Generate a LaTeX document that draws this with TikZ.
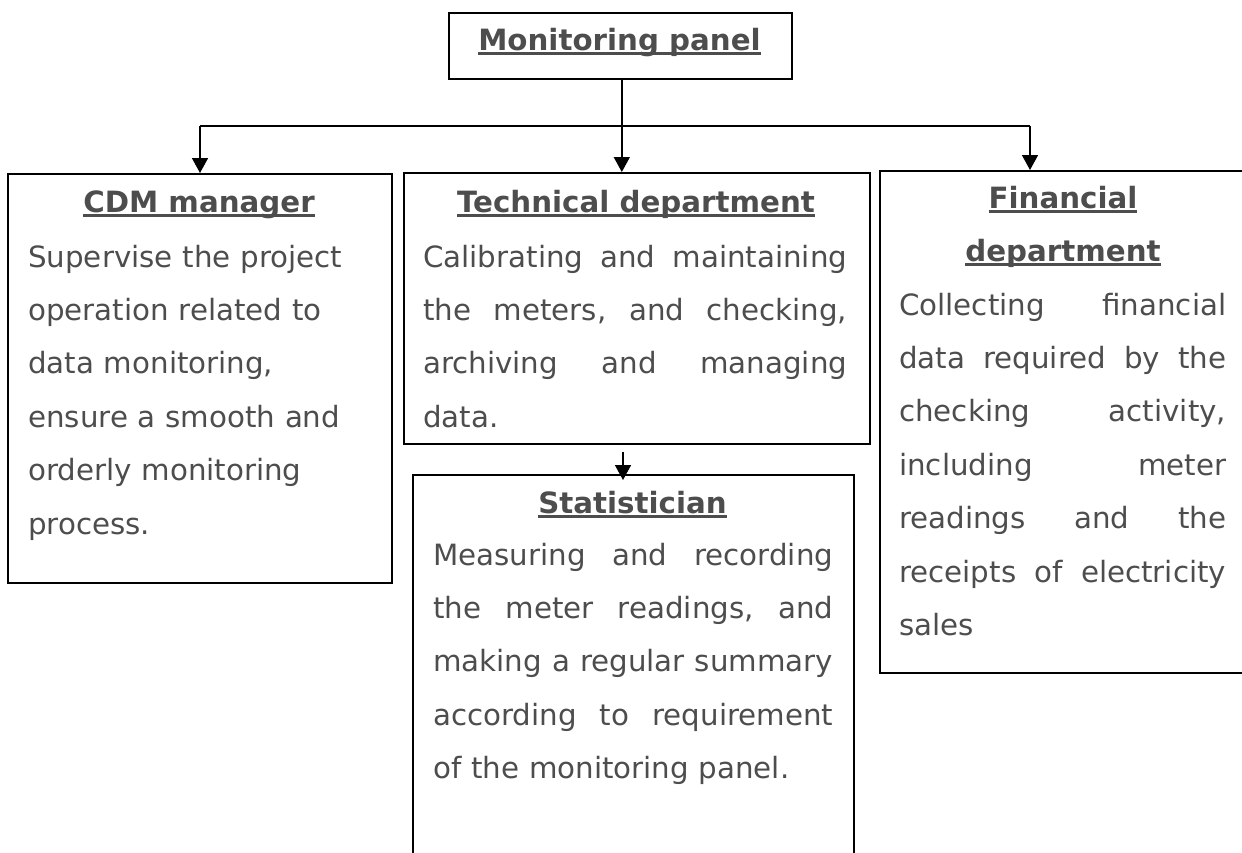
\documentclass[tikz,border=0pt]{standalone}
\usepackage{fontspec}
\setmainfont{DejaVu Sans}
\usetikzlibrary{arrows.meta}
\definecolor{txt}{HTML}{4D4D4D}
\newcommand\myul[1]{\leavevmode\setbox0=\hbox{#1}\rlap{\color{txt}\rule[-4.5pt]{\wd0}{2.6pt}}\box0}
\newcommand\jl[1]{\hbox to\linewidth{\frenchspacing\spaceskip=\fontdimen2\font plus 1fil minus .1em\relax #1}}
\newcommand\rl[1]{\hbox{\frenchspacing #1}}
\tikzset{
  box/.style={draw=black, line width=1.6pt, rectangle, anchor=north west, inner sep=0pt},
  ttl/.style={anchor=base, inner sep=0pt, text=txt, font=\bfseries\fontsize{29.3}{53.4}\selectfont},
  body/.style={anchor=base west, inner sep=0pt, text=txt, font=\fontsize{29.3}{53.4}\selectfont},
  conn/.style={draw=black, line width=1.6pt},
  arr/.style={conn, -{Triangle[length=15pt,width=16pt]}}
}
\begin{document}
\begin{tikzpicture}[x=1pt,y=-1pt]
\useasboundingbox (0,0) rectangle (1242,852);
% boxes
\node[box, minimum width=343pt, minimum height=66pt] (mp) at (448,12) {};
\node[box, minimum width=384pt, minimum height=409pt] (cdm) at (7,173) {};
\node[box, minimum width=466pt, minimum height=271pt] (tech) at (403,172) {};
\node[box, minimum width=441pt, minimum height=420pt] (stat) at (412,474) {};
\node[box, minimum width=375pt, minimum height=502pt] (fin) at (879,170) {};
% titles
\node[ttl] (mpT) at (619.5,50) {\myul{Monitoring panel}};
\node[ttl] (cdmT) at (199,212) {\myul{CDM manager}};
\node[ttl] (techT) at (636,212) {\myul{Technical department}};
\node[ttl] (statT) at (632.5,513) {\myul{Statistician}};
\node[ttl, text width=340pt, align=center] (finT) at (1063,208) {\myul{Financial}\\\myul{department}};
% bodies
\node[body, text width=355pt] (cdmB) at (28,267) {\rl{Supervise the project}\par
\rl{operation related to}\par
\rl{data monitoring,}\par
\rl{ensure a smooth and}\par
\rl{orderly monitoring}\par
\rl{process.}};
\node[body, text width=424pt] (techB) at (423,267) {\jl{Calibrating and maintaining}\par
\jl{the meters, and checking,}\par
\jl{archiving and managing}\par
\rl{data.}};
\node[body, text width=400pt] (statB) at (433,565) {\jl{Measuring and recording}\par
\jl{the meter readings, and}\par
\jl{making a regular summary}\par
\jl{according to requirement}\par
\rl{of the monitoring panel.}};
\node[body, text width=327pt] (finB) at (899,315) {\jl{Collecting financial}\par
\jl{data required by the}\par
\jl{checking activity,}\par
\jl{including meter}\par
\jl{readings and the}\par
\jl{receipts of electricity}\par
\rl{sales}};
% connectors
\coordinate (hl) at (200,126);
\coordinate (hr) at (1030,126);
\coordinate (ts) at (623,452);
\coordinate (mv) at ([xshift=1.5pt]mp.south);
\draw[arr] (mv) -- (mv |- tech.north);
\draw[conn] (hl) -- (hr);
\draw[arr] (hl) -- (hl |- cdm.north);
\draw[arr] (hr) -- (hr |- fin.north);
\draw[arr, shorten >=-6pt] (ts) -- (ts |- stat.north);
\end{tikzpicture}
\end{document}
